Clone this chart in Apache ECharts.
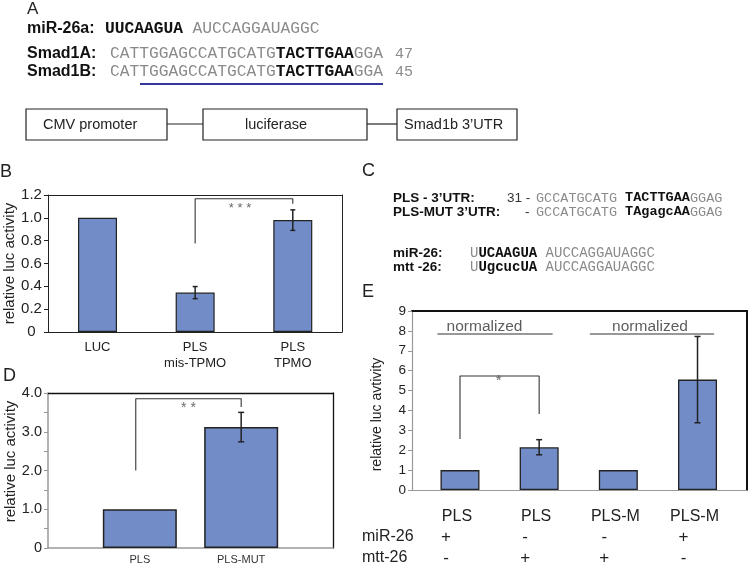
<!DOCTYPE html>
<html><head><meta charset="utf-8">
<script src="https://cdn.jsdelivr.net/npm/echarts@6/dist/echarts.min.js"></script>
<style>html,body{margin:0;padding:0;background:#fff}#c{width:748px;height:570px}</style>
</head><body><div id="c"></div><script>
// ---------- DATA ----------
// Panel B
const bCategories = ['LUC', 'PLS\nmis-TPMO', 'PLS\nTPMO'];
const bValues = [1.0, 0.345, 0.98];
const bErrors = [0, 0.053, 0.09];
const bTicks = [0, 0.2, 0.4, 0.6, 0.8, 1.0, 1.2];
const bBracket = [[1, 0.776], [1, 1.167], [2, 1.167], [2, 1.123]];
const bStars = {x: 1.46, y: 1.08, text: '* * *'};
// Panel D
const dCategories = ['PLS', 'PLS-MUT'];
const dValues = [1.0, 3.12];
const dErrors = [0, 0.38];
const dTicks = [0, 1, 2, 3, 4];
const dMinorTicks = [0, 0.5, 1, 1.5, 2, 2.5, 3, 3.5, 4];
const dBracket = [[-0.04, 2.0], [-0.04, 3.85], [1, 3.85], [1, 3.64]];
const dStars = {x: 0.48, y: 3.62, text: '* *'};
// Panel E
const eCategories = ['PLS', 'PLS', 'PLS-M', 'PLS-M'];
const eValues = [1.0, 2.15, 1.0, 5.55];
const eErrors = [0, 0.38, 0, 2.17];
const eMiR = ['+', '-', '-', '+'];
const eMtt = ['-', '+', '+', '-'];
const eTicks = [0, 1, 2, 3, 4, 5, 6, 7, 8, 9];
const eBracket = [[0, 2.56], [0, 5.73], [1, 5.73], [1, 3.82]];
const eStar = {x: 0.49, y: 5.5, text: '*'};
const eNormSegments = [[[-0.285, 7.84], [1.17, 7.84]], [[1.64, 7.84], [3.21, 7.84]]];
const eNormLabels = [{x: 0.31, y: 8.2, text: 'normalized'}, {x: 2.40, y: 8.2, text: 'normalized'}];

// ---------- STYLE ----------
const SANS = '"Liberation Sans", Arial, sans-serif';
const MONO = '"Liberation Mono", "Courier New", monospace';
const BAR = '#728cc8';
const GRAY_SEQ = '#8a8a8a';

function fmtDec(v) { return v === 0 ? '0' : v.toFixed(1); }

function frameX(grid, color, width) {
  return {gridIndex: grid, type: 'value', position: 'top', min: 0, max: 1,
    axisLine: {show: true, onZero: false, lineStyle: {color: color, width: width}},
    axisTick: {show: false}, axisLabel: {show: false}, splitLine: {show: false}};
}
function frameY(grid, color, width) {
  return {gridIndex: grid, type: 'value', position: 'right', min: 0, max: 1,
    axisLine: {show: true, onZero: false, lineStyle: {color: color, width: width}},
    axisTick: {show: false}, axisLabel: {show: false}, splitLine: {show: false}};
}
function bars(xi, yi, values, width, bw) {
  return {type: 'bar', xAxisIndex: xi, yAxisIndex: yi, barWidth: width, silent: true,
    data: values.map((v, i) => [i, v]),
    itemStyle: {color: BAR, borderColor: '#222', borderWidth: bw}};
}
function errBars(xi, yi, values, errs, cap) {
  const data = [];
  values.forEach((v, i) => { if (errs[i] > 0) data.push([i, v - errs[i], v + errs[i]]); });
  return {type: 'custom', xAxisIndex: xi, yAxisIndex: yi, silent: true, z: 5, data: data,
    renderItem: function (params, api) {
      const x = api.value(0);
      const p1 = api.coord([x, api.value(2)]);
      const p2 = api.coord([x, api.value(1)]);
      const st = {stroke: '#222', lineWidth: 1.5};
      return {type: 'group', children: [
        {type: 'line', shape: {x1: p1[0], y1: p1[1], x2: p2[0], y2: p2[1]}, style: st},
        {type: 'line', shape: {x1: p1[0] - cap, y1: p1[1], x2: p1[0] + cap, y2: p1[1]}, style: st},
        {type: 'line', shape: {x1: p2[0] - cap, y1: p2[1], x2: p2[0] + cap, y2: p2[1]}, style: st}
      ]};
    }};
}
function lineSeries(xi, yi, pts, color, width) {
  return {type: 'line', xAxisIndex: xi, yAxisIndex: yi, data: pts, symbol: 'none', silent: true,
    lineStyle: {color: color, width: width}, z: 4};
}
function textSeries(xi, yi, items, fontSize, color) {
  return {type: 'scatter', xAxisIndex: xi, yAxisIndex: yi, symbolSize: 0, silent: true, z: 6,
    data: items.map(t => ({value: [t.x, t.y], label: {formatter: t.text}})),
    label: {show: true, position: 'inside', fontSize: fontSize, color: color, fontFamily: SANS}};
}

// ---------- GRAPHIC TEXT (panels A & C) ----------
function txt(x, y, text, font, fill, rich) {
  const style = {text: text, font: font, fill: fill, verticalAlign: 'middle', align: 'left'};
  if (rich) style.rich = rich;
  return {type: 'text', x: x, y: y, silent: true, style: style};
}
function seqRich(size) {
  return {
    g: {fontFamily: MONO, fontSize: size, fill: GRAY_SEQ},
    b: {fontFamily: MONO, fontSize: size, fontWeight: 'bold', fill: '#111'}
  };
}
const boxStyle = {fill: 'none', stroke: '#222', lineWidth: 1.2};

const graphics = [
  txt(27, 9, 'A', '17px ' + SANS, '#222'),
  txt(27, 29, 'miR-26a:', 'bold 16px ' + SANS, '#111'),
  txt(105, 29, '{b|UUCAAGUA} {g|AUCCAGGAUAGGC}', '16px ' + MONO, GRAY_SEQ, seqRich(16.25)),
  txt(27, 54, 'Smad1A:', 'bold 16px ' + SANS, '#111'),
  txt(110, 54, '{g|CATTGGAGCCATGCATG}{b|TACTTGAA}{g|GGA}', '16px ' + MONO, GRAY_SEQ, seqRich(16.25)),
  txt(395, 54, '47', '15px ' + MONO, GRAY_SEQ),
  txt(27, 72, 'Smad1B:', 'bold 16px ' + SANS, '#111'),
  txt(110, 72, '{g|CATTGGAGCCATGCATG}{b|TACTTGAA}{g|GGA}', '16px ' + MONO, GRAY_SEQ, seqRich(16.25)),
  txt(395, 72, '45', '15px ' + MONO, GRAY_SEQ),
  {type: 'line', silent: true, shape: {x1: 140, y1: 84, x2: 383, y2: 84}, style: {stroke: '#35359a', lineWidth: 2}},
  {type: 'rect', silent: true, shape: {x: 26, y: 109, width: 141, height: 31}, style: boxStyle},
  {type: 'rect', silent: true, shape: {x: 203, y: 109, width: 164, height: 31}, style: boxStyle},
  {type: 'rect', silent: true, shape: {x: 397, y: 109, width: 120, height: 31}, style: boxStyle},
  {type: 'line', silent: true, shape: {x1: 167, y1: 124, x2: 203, y2: 124}, style: boxStyle},
  {type: 'line', silent: true, shape: {x1: 367, y1: 124, x2: 397, y2: 124}, style: boxStyle},
  txt(43, 125, 'CMV promoter', '14.5px ' + SANS, '#222'),
  txt(245, 125, 'luciferase', '14.5px ' + SANS, '#222'),
  txt(404, 125, 'Smad1b 3\u2019UTR', '14.5px ' + SANS, '#222'),
  txt(0, 172, 'B', '18px ' + SANS, '#222'),
  txt(362, 171, 'C', '18px ' + SANS, '#222'),
  txt(3, 376, 'D', '18px ' + SANS, '#222'),
  txt(362, 292, 'E', '18px ' + SANS, '#222'),
  txt(393, 198, 'PLS - 3\u2019UTR:', 'bold 13.5px ' + SANS, '#111'),
  txt(507, 198, '31 -', '13.5px ' + SANS, '#333'),
  txt(536, 198, '{g|GCCATGCATG} {b|TACTTGAA}{g|GGAG}', '13.5px ' + MONO, GRAY_SEQ, seqRich(13.5)),
  txt(393, 212, 'PLS-MUT 3\u2019UTR:', 'bold 13.5px ' + SANS, '#111'),
  txt(525, 212, '-', '13.5px ' + SANS, '#333'),
  txt(536, 212, '{g|GCCATGCATG} {b|TAgagcAA}{g|GGAG}', '13.5px ' + MONO, GRAY_SEQ, seqRich(13.5)),
  txt(393, 253, 'miR-26:', 'bold 13.5px ' + SANS, '#111'),
  txt(470, 253, '{g|U}{b|UCAAGUA} {g|AUCCAGGAUAGGC}', '14px ' + MONO, GRAY_SEQ, seqRich(14)),
  txt(393, 267, 'mtt -26:', 'bold 13.5px ' + SANS, '#111'),
  txt(470, 267, '{g|U}{b|UgcucUA} {g|AUCCAGGAUAGGC}', '14px ' + MONO, GRAY_SEQ, seqRich(14)),
  txt(362, 537, 'miR-26', '16px ' + SANS, '#222'),
  txt(362, 558, 'mtt-26', '16px ' + SANS, '#222')
];

// ---------- CHART ----------
const chart = echarts.init(document.getElementById('c'), null, {renderer: 'canvas'});
chart.setOption({
  animation: false,
  backgroundColor: '#fff',
  textStyle: {fontFamily: SANS},
  grid: [
    {left: 48, top: 195, width: 294, height: 137, outerBoundsMode: 'none'},
    {left: 48, top: 393, width: 285, height: 155, outerBoundsMode: 'none'},
    {left: 412, top: 311, width: 335, height: 179, outerBoundsMode: 'none'}
  ],
  xAxis: [
    {gridIndex: 0, type: 'value', position: 'bottom', min: -0.507, max: 2.504,
      axisLine: {show: true, onZero: false, lineStyle: {color: '#222', width: 1}},
      axisTick: {show: false}, splitLine: {show: false},
      axisLabel: {customValues: [0, 1, 2], formatter: v => bCategories[Math.round(v)],
        fontSize: 13, lineHeight: 16, color: '#222', margin: 7, fontFamily: SANS}},
    frameX(0, '#222', 1),
    {gridIndex: 1, type: 'value', position: 'bottom', min: -0.906, max: 1.906,
      axisLine: {show: true, onZero: false, lineStyle: {color: '#999', width: 1.5}},
      axisTick: {show: false}, splitLine: {show: false},
      axisLabel: {customValues: [0, 1], formatter: v => dCategories[Math.round(v)],
        fontSize: 11, color: '#333', margin: 6, fontFamily: SANS}},
    frameX(1, '#111', 1.3),
    {gridIndex: 2, type: 'value', position: 'bottom', min: -0.606, max: 3.625,
      axisLine: {show: true, onZero: false, lineStyle: {color: '#999', width: 1.2}},
      axisTick: {show: false}, splitLine: {show: false},
      axisLabel: {customValues: [0, 1, 2, 3],
        formatter: v => { const i = Math.round(v); return '{n|' + eCategories[i] + '}\n{s|' + eMiR[i] + '}\n{s|' + eMtt[i] + '}'; },
        margin: 17, color: '#222',
        rich: {
          n: {fontSize: 16, lineHeight: 20, fontFamily: SANS, color: '#222', padding: [0, 6, 0, 0]},
          s: {fontSize: 17, lineHeight: 21, fontFamily: SANS, color: '#222', padding: [0, 28, 0, 0]}
        }}},
    frameX(2, '#111', 2)
  ],
  yAxis: [
    {gridIndex: 0, type: 'value', min: 0, max: 1.2, position: 'left',
      axisLine: {show: true, onZero: false, lineStyle: {color: '#222', width: 1}},
      axisTick: {show: true, customValues: bTicks, length: 4, lineStyle: {color: '#222'}},
      axisLabel: {customValues: bTicks, formatter: fmtDec, fontSize: 15, color: '#222', align: 'center', margin: 16.5, fontFamily: SANS},
      splitLine: {show: false},
      name: 'relative luc activity', nameLocation: 'middle', nameGap: 31,
      nameTextStyle: {fontSize: 15, color: '#222', fontFamily: SANS}},
    frameY(0, '#222', 1),
    {gridIndex: 1, type: 'value', min: 0, max: 4, position: 'left',
      axisLine: {show: true, onZero: false, lineStyle: {color: '#999', width: 1.5}},
      axisTick: {show: true, customValues: dMinorTicks, length: 4, lineStyle: {color: '#999'}},
      axisLabel: {customValues: dTicks, formatter: fmtDec, fontSize: 14.5, color: '#222', margin: 6, fontFamily: SANS},
      splitLine: {show: false},
      name: 'relative luc activity', nameLocation: 'middle', nameGap: 30,
      nameTextStyle: {fontSize: 15, color: '#222', fontFamily: SANS, padding: [0, 0, 0, 18]}},
    frameY(1, '#111', 1.3),
    {gridIndex: 2, type: 'value', min: 0, max: 9, position: 'left',
      axisLine: {show: true, onZero: false, lineStyle: {color: '#999', width: 1.2}},
      axisTick: {show: true, customValues: eTicks, length: 4, lineStyle: {color: '#999'}},
      axisLabel: {customValues: eTicks, formatter: v => String(v), fontSize: 13.5, color: '#222', margin: 6, fontFamily: SANS},
      splitLine: {show: false},
      name: 'relative luc avtivity', nameLocation: 'middle', nameGap: 28,
      nameTextStyle: {fontSize: 14, color: '#222', fontFamily: SANS, padding: [0, 28, 0, 0]}},
    frameY(2, '#111', 2)
  ],
  series: [
    bars(0, 0, bValues, 39, 1.2),
    errBars(0, 0, bValues, bErrors, 2.5),
    lineSeries(0, 0, bBracket, '#333', 1.1),
    textSeries(0, 0, [bStars], 13, '#444'),
    bars(2, 2, dValues, 74, 1.5),
    errBars(2, 2, dValues, dErrors, 3),
    lineSeries(2, 2, dBracket, '#333', 1.1),
    textSeries(2, 2, [dStars], 14, '#444'),
    bars(4, 4, eValues, 39, 1.3),
    errBars(4, 4, eValues, eErrors, 3),
    lineSeries(4, 4, eBracket, '#333', 1.1),
    textSeries(4, 4, [eStar], 15, '#444')
  ].concat(eNormSegments.map(seg => lineSeries(4, 4, seg, '#333', 1.1)))
   .concat([textSeries(4, 4, eNormLabels, 15.5, '#333')]),
  graphic: graphics
});
</script></body></html>
